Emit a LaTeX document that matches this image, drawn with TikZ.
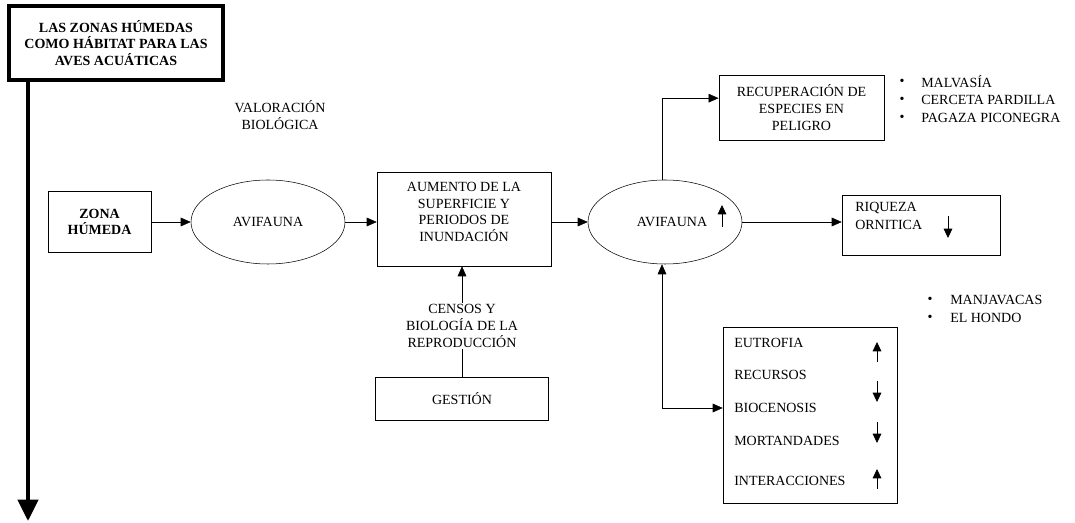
\documentclass[tikz,border=0pt]{standalone}
\usepackage{fontspec}
\setmainfont{Liberation Serif}
\usetikzlibrary{arrows.meta,shapes.geometric}

\tikzset{
  box/.style={draw, rectangle, inner sep=2pt, align=center},
  blob/.style={draw, ellipse, inner sep=0pt, minimum width=115.5pt, minimum height=63pt},
  arr/.style={-{Triangle[length=7.5pt,width=6.5pt]}},
  tick/.style={-{Triangle[length=7pt,width=6.5pt]}, semithick},
}

\begin{document}
\begin{tikzpicture}[x=0.75pt, y=-0.75pt, font=\fontsize{10.5pt}{12.5pt}\selectfont, thin]
   \useasboundingbox (0,0) rectangle (1075,523);

   % Title and main axis
   \node[box, line width=3pt, font=\fontsize{10.5pt}{12.5pt}\selectfont\bfseries,
         minimum width=161pt, minimum height=55pt] (title) at (116,43)
        {LAS ZONAS HÚMEDAS\\COMO HÁBITAT PARA LAS\\AVES ACUÁTICAS};
   \coordinate (axisend) at (28,521);
   \draw[line width=3pt, -{Triangle[length=16pt,width=15pt]}] (title.south -| axisend) -- (axisend);

   % Main row
   \node[box, font=\fontsize{10.5pt}{12.5pt}\selectfont\bfseries,
         minimum width=77pt, minimum height=46pt] (zona) at (99.5,222) {ZONA\\HÚMEDA};
   \node[blob] (avi1) at (268,222) {AVIFAUNA};
   \node[align=center] (valor) at (280,115) {VALORACIÓN\\BIOLÓGICA};
   \node[box, minimum width=130.5pt, minimum height=70.5pt] (aumento) at (464,219) {};
   \node[align=center] (aumtext) at (464,212)
        {AUMENTO DE LA\\SUPERFICIE Y\\PERIODOS DE\\INUNDACIÓN};
   \node[blob] (avi2) at (665,222) {\hspace*{1em}AVIFAUNA};
   \draw[tick] (722,227) -- (722,205);

   \draw[arr] (zona.east) -- (zona.east -| avi1.west);
   \draw[arr] (avi1.east) -- (avi1.east -| aumento.west);
   \draw[arr] (aumento.east |- avi2.west) -- (avi2.west);

   % Management
   \node[box, minimum width=130pt, minimum height=32pt] (gestion) at (462,399) {GESTIÓN};
   \node[align=center, fill=white, inner sep=1pt] (censos) at (462,326)
        {CENSOS Y\\BIOLOGÍA DE LA\\REPRODUCCIÓN};
   \draw (gestion.north) -- (censos.south);
   \draw[arr] (censos.north) -- (censos.north |- aumento.south);

   % Endangered species
   \node[box, minimum width=124pt, minimum height=49pt] (recup) at (801.5,107.5)
        {RECUPERACIÓN DE\\ESPECIES EN\\PELIGRO};
   \draw[arr] (avi2.north -| 662,0) |- ([yshift=7pt]recup.west);
   \foreach \name [count=\i] in {MALVASÍA, CERCETA PARDILLA, PAGAZA PICONEGRA} {
      \node (dotA\i) at (902,{64+18*\i}) {•};
      \node[anchor=west, inner sep=0pt] (bird\i) at (921,{64+18*\i}) {\name};
   }

   % Richness
   \node[box, minimum width=118.5pt, minimum height=45pt] (riqueza) at (921,225) {};
   \node[anchor=north west, align=left, inner sep=0pt] (riqtext) at (855,202) {RIQUEZA\\[1pt]ORNITICA};
   \draw[tick] (948,216) -- (948,238);
   \draw[arr] (avi2.east) -- (avi2.east -| riqueza.west);

   % Sites
   \foreach \name [count=\i] in {MANJAVACAS, EL HONDO} {
      \node (dotB\i) at (930,{282+18*\i}) {•};
      \node[anchor=west, inner sep=0pt] (site\i) at (950,{282+18*\i}) {\name};
   }

   % Effects box
   \node[box, minimum width=130.5pt, minimum height=132pt] (efectos) at (810,415) {};
   \node[anchor=west, inner sep=0pt] (eutro) at (734,343) {EUTROFIA};
   \node[anchor=west, inner sep=0pt] (recur) at (734,375) {RECURSOS};
   \node[anchor=west, inner sep=0pt] (bio) at (734,408) {BIOCENOSIS};
   \node[anchor=west, inner sep=0pt] (mort) at (734,441) {MORTANDADES};
   \node[anchor=west, inner sep=0pt] (inter) at (734,481) {INTERACCIONES};
   \draw[tick] (877,362) -- (877,342);
   \draw[tick] (877,381) -- (877,402);
   \draw[tick] (877,422) -- (877,443);
   \draw[tick] (877,489) -- (877,469);
   \draw[{Triangle[length=7.5pt,width=6.5pt]}-{Triangle[length=7.5pt,width=6.5pt]}]
        (avi2.south -| 662,0) |- (efectos.west |- bio);
\end{tikzpicture}
\end{document}
